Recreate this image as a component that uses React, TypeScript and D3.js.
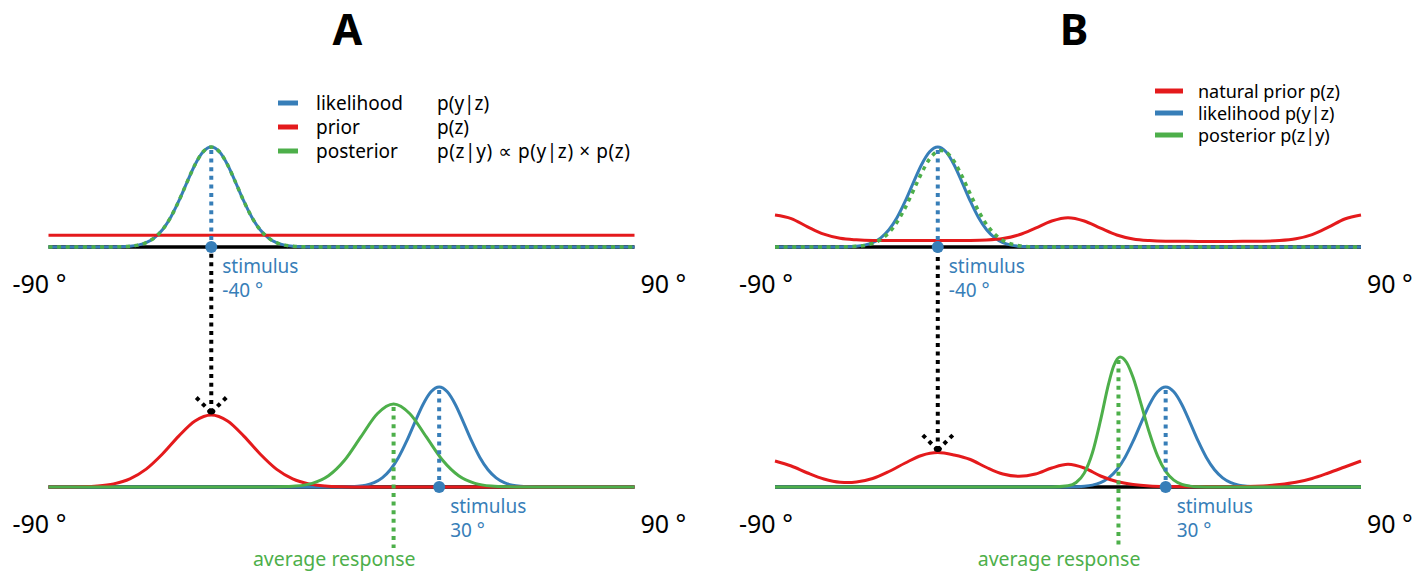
import React from 'react'
import * as d3 from 'd3'

type Pt = [number, number]

// orientation axis, degrees
const axisEnds = [-90, 90]
const stimulusTop = -40
const stimulusBottom = 30
const averageResponseA = 16
const averageResponseB = 15.5

// likelihood p(y|z), peak normalised to 1
const likelihoodTop: Pt[] = [
  [-90, 0], [-75, 0], [-70, 0.0009], [-67.5, 0.0027], [-65, 0.0076], [-62.5, 0.0191],
  [-60, 0.0439], [-57.5, 0.0916], [-55, 0.172], [-52.5, 0.295], [-50, 0.458],
  [-47.5, 0.644], [-45, 0.823], [-42.5, 0.952], [-40, 1], [-37.5, 0.952], [-35, 0.823],
  [-32.5, 0.644], [-30, 0.458], [-27.5, 0.295], [-25, 0.172], [-22.5, 0.0916],
  [-20, 0.0439], [-17.5, 0.0191], [-15, 0.0076], [-12.5, 0.0027], [-10, 0.0009],
  [-5, 0], [90, 0],
]
const likelihoodBottom: Pt[] = [
  [-90, 0], [-5, 0], [0, 0.0009], [2.5, 0.0027], [5, 0.0076], [7.5, 0.0191],
  [10, 0.0439], [12.5, 0.0916], [15, 0.172], [17.5, 0.295], [20, 0.458],
  [22.5, 0.644], [25, 0.823], [27.5, 0.952], [30, 1], [32.5, 0.952], [35, 0.823],
  [37.5, 0.644], [40, 0.458], [42.5, 0.295], [45, 0.172], [47.5, 0.0916],
  [50, 0.0439], [52.5, 0.0191], [55, 0.0076], [57.5, 0.0027], [60, 0.0009],
  [65, 0], [90, 0],
]

// panel A
const priorTopA: Pt[] = [[-90, 0.117], [90, 0.117]]
const posteriorTopA: Pt[] = likelihoodTop // flat prior, so same curve
const priorBottomA: Pt[] = [
  [-90, 0], [-85, 0.0006], [-80, 0.0028], [-75, 0.0102], [-70, 0.0316], [-65, 0.082],
  [-60, 0.179], [-55, 0.33], [-50, 0.509], [-45, 0.66], [-40, 0.72], [-35, 0.66],
  [-30, 0.509], [-25, 0.33], [-20, 0.179], [-15, 0.082], [-10, 0.0316], [-5, 0.0102],
  [0, 0.0028], [5, 0.0006], [10, 0], [90, 0],
]
const posteriorBottomA: Pt[] = [
  [-90, 0], [-24, 0], [-19, 0.0018], [-14, 0.0092], [-9, 0.0365], [-4, 0.1123],
  [1, 0.2695], [6, 0.503], [11, 0.7325], [16, 0.83], [21, 0.7325], [26, 0.503],
  [31, 0.2695], [36, 0.1123], [41, 0.0365], [46, 0.0092], [51, 0.0018], [56, 0], [90, 0],
]

// panel B
const priorTopB: Pt[] = [
  [-90, 0.32], [-85, 0.284], [-80, 0.202], [-75, 0.128], [-70, 0.087], [-65, 0.072],
  [-60, 0.066], [-50, 0.064], [-40, 0.064], [-30, 0.066], [-25, 0.07], [-20, 0.084],
  [-15, 0.122], [-10, 0.188], [-5, 0.26], [0, 0.293], [5, 0.26], [10, 0.188],
  [15, 0.12], [20, 0.08], [25, 0.064], [30, 0.058], [40, 0.056], [50, 0.056],
  [60, 0.058], [65, 0.064], [70, 0.082], [75, 0.124], [80, 0.198], [85, 0.28], [90, 0.32],
]
const posteriorTopB: Pt[] = [
  [-90, 0], [-75, 0], [-70, 0.0008], [-65, 0.0063], [-60, 0.0363], [-57.5, 0.0757],
  [-55, 0.144], [-52.5, 0.249], [-50, 0.392], [-47.5, 0.564], [-45, 0.738],
  [-42.5, 0.881], [-40, 0.958], [-39, 0.965], [-37.5, 0.949], [-35, 0.857],
  [-32.5, 0.705], [-30, 0.529], [-27.5, 0.361], [-25, 0.225], [-22.5, 0.128],
  [-20, 0.066], [-17.5, 0.031], [-15, 0.0134], [-10, 0.0019], [-5, 0], [90, 0],
]
const priorBottomB: Pt[] = [
  [-90, 0.26], [-85, 0.21], [-80, 0.14], [-75, 0.08], [-70, 0.047], [-67.5, 0.044],
  [-65, 0.05], [-60, 0.085], [-55, 0.155], [-50, 0.24], [-45, 0.315], [-40, 0.344],
  [-35, 0.32], [-30, 0.275], [-25, 0.195], [-20, 0.13], [-15, 0.107], [-10, 0.13],
  [-5, 0.19], [0, 0.227], [5, 0.19], [10, 0.11], [15, 0.055], [20, 0.025], [25, 0.01],
  [30, 0.005], [40, 0.003], [50, 0.003], [60, 0.01], [65, 0.025], [70, 0.048],
  [75, 0.085], [80, 0.14], [85, 0.2], [90, 0.26],
]
const posteriorBottomB: Pt[] = [
  [-90, 0], [-5, 0], [0, 0.0115], [2.5, 0.045], [5, 0.139], [7.5, 0.342], [10, 0.668],
  [12.5, 1.036], [14, 1.207], [16, 1.3], [18, 1.245], [20, 1.094], [22.5, 0.823],
  [25, 0.542], [27.5, 0.311], [30, 0.156], [32.5, 0.0685], [35, 0.026], [37.5, 0.0088],
  [40, 0.0026], [45, 0], [90, 0],
]

const legendNamesA = ['likelihood', 'prior', 'posterior']
const legendFormulasA = ['p(y|z)', 'p(z)', 'p(z|y) \u221d p(y|z) \u00d7 p(z)']
const legendNamesB = ['natural prior p(z)', 'likelihood p(y|z)', 'posterior p(z|y)']

const BLUE = '#377eb8'
const RED = '#e41a1c'
const GREEN = '#4daf4a'
const FONT = "'Noto Sans', 'DejaVu Sans', sans-serif"
const DOTS = '4 4.6'

const yTop = d3.scaleLinear().domain([0, 1]).range([247, 147])
const yBottom = d3.scaleLinear().domain([0, 1]).range([487, 387])

const valueAt = (pts: Pt[], a: number) => (pts.find(d => d[0] === a) || [a, 0])[1]

type PanelProps = {
  x0: number
  x1: number
  title: string
  priorTop: Pt[]
  posteriorTop: Pt[]
  priorBottom: Pt[]
  posteriorBottom: Pt[]
  average: number
}

const Panel = (p: PanelProps) => {
  const x = d3.scaleLinear().domain([-90, 90]).range([p.x0, p.x1])
  const path = (y: d3.ScaleLinear<number, number>, pts: Pt[]) =>
    d3
      .line<Pt>()
      .x(d => x(d[0]))
      .y(d => y(d[1]))
      .curve(d3.curveMonotoneX)(pts) || ''

  const sx = x(stimulusTop)
  const bx = x(stimulusBottom)
  const ax = x(p.average)
  const tipY = yBottom(valueAt(p.priorBottom, stimulusTop)) - 2.5
  const postPeak = d3.max(p.posteriorBottom, d => d[1]) || 0

  return (
    <g>
      <text x={(p.x0 + p.x1) / 2 + 6} y={45} textAnchor="middle" fontSize={43} fontWeight="bold" fontFamily={FONT}>
        {p.title}
      </text>

      {/* axes */}
      {[yTop, yBottom].map((y, i) => (
        <line key={i} x1={x(axisEnds[0])} x2={x(axisEnds[1])} y1={y(0)} y2={y(0)} stroke="#000" strokeWidth={3.5} />
      ))}

      {/* top: first trial */}
      <path d={path(yTop, likelihoodTop)} fill="none" stroke={BLUE} strokeWidth={3} />
      <path d={path(yTop, p.priorTop)} fill="none" stroke={RED} strokeWidth={3} />
      <path d={path(yTop, p.posteriorTop)} fill="none" stroke={GREEN} strokeWidth={3.5} strokeDasharray={DOTS} />

      {/* bottom: second trial */}
      <path d={path(yBottom, likelihoodBottom)} fill="none" stroke={BLUE} strokeWidth={3} />
      <path d={path(yBottom, p.priorBottom)} fill="none" stroke={RED} strokeWidth={3} />
      <path d={path(yBottom, p.posteriorBottom)} fill="none" stroke={GREEN} strokeWidth={3} />

      {/* stimulus markers */}
      <line x1={sx} x2={sx} y1={yTop(1) + 3} y2={yTop(0)} stroke={BLUE} strokeWidth={4} strokeDasharray={DOTS} />
      <line x1={bx} x2={bx} y1={yBottom(1) + 3} y2={yBottom(0)} stroke={BLUE} strokeWidth={4} strokeDasharray={DOTS} />
      <line x1={ax} x2={ax} y1={yBottom(postPeak) + 3} y2={548} stroke={GREEN} strokeWidth={4} strokeDasharray={DOTS} />

      {/* dotted arrow from the first stimulus to the new prior */}
      <path d={`M${sx},${tipY} L${sx},${yTop(0)}`} stroke="#000" strokeWidth={4} strokeDasharray={DOTS} fill="none" />
      <path d={`M${sx},${tipY} L${sx - 15},${tipY - 15}`} stroke="#000" strokeWidth={4} strokeDasharray={DOTS} fill="none" />
      <path d={`M${sx},${tipY} L${sx + 15},${tipY - 15}`} stroke="#000" strokeWidth={4} strokeDasharray={DOTS} fill="none" />
      <ellipse cx={sx} cy={tipY - 1} rx={4} ry={3} fill="#000" />

      <circle cx={sx} cy={yTop(0)} r={6} fill={BLUE} />
      <circle cx={bx} cy={yBottom(0)} r={6} fill={BLUE} />

      {/* text */}
      <g fontFamily={FONT}>
        {[yTop, yBottom].map((y, i) => (
          <g key={i} fontSize={25}>
            <text x={x(axisEnds[0]) - 36} y={y(0) + 46}>{`${axisEnds[0]} \u00b0`}</text>
            <text x={x(axisEnds[1]) + 6} y={y(0) + 46}>{`${axisEnds[1]} \u00b0`}</text>
          </g>
        ))}
        <g fill={BLUE} fontSize={19}>
          <text x={sx + 11} y={yTop(0) + 26}>stimulus</text>
          <text x={sx + 11} y={yTop(0) + 50}>{`${stimulusTop} \u00b0`}</text>
          <text x={bx + 11} y={yBottom(0) + 26}>stimulus</text>
          <text x={bx + 11} y={yBottom(0) + 50}>{`${stimulusBottom} \u00b0`}</text>
        </g>
        <text x={ax + 22} y={566} textAnchor="end" fill={GREEN} fontSize={19.5}>
          average response
        </text>
      </g>
    </g>
  )
}

const App = () => {
  const colorsA = [BLUE, RED, GREEN]
  const colorsB = [RED, BLUE, GREEN]
  return (
    <svg width={1426} height={571} style={{ position: 'absolute', left: 0, top: 0, background: '#fff' }}>
      <Panel
        x0={48.5}
        x1={634.5}
        title="A"
        priorTop={priorTopA}
        posteriorTop={posteriorTopA}
        priorBottom={priorBottomA}
        posteriorBottom={posteriorBottomA}
        average={averageResponseA}
      />
      <Panel
        x0={775}
        x1={1361}
        title="B"
        priorTop={priorTopB}
        posteriorTop={posteriorTopB}
        priorBottom={priorBottomB}
        posteriorBottom={posteriorBottomB}
        average={averageResponseB}
      />

      {/* legend A */}
      <g fontFamily={FONT} fontSize={19}>
        {legendNamesA.map((name, i) => (
          <g key={name}>
            <line x1={278} x2={298} y1={103 + i * 24} y2={103 + i * 24} stroke={colorsA[i]} strokeWidth={5} />
            <text x={316} y={110 + i * 24}>{name}</text>
            <text x={437} y={110 + i * 24} textLength={i === 2 ? 193 : undefined}>
              {legendFormulasA[i]}
            </text>
          </g>
        ))}
      </g>

      {/* legend B */}
      <g fontFamily={FONT} fontSize={18}>
        {legendNamesB.map((name, i) => (
          <g key={name}>
            <line x1={1155} x2={1183} y1={91 + i * 22} y2={91 + i * 22} stroke={colorsB[i]} strokeWidth={5} />
            <text x={1198} y={98 + i * 22}>{name}</text>
          </g>
        ))}
      </g>
    </svg>
  )
}

export default App
